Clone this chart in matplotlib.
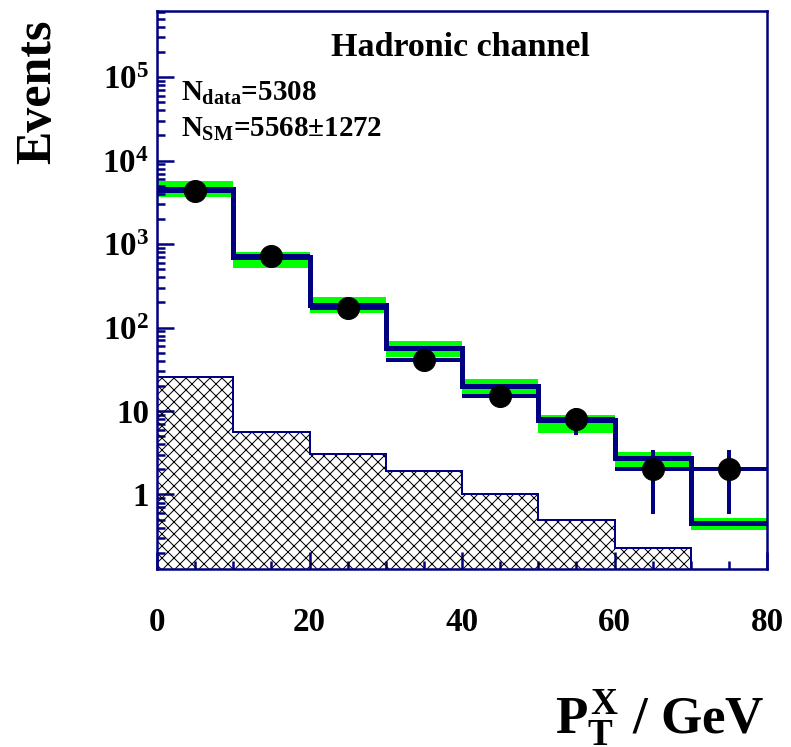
import numpy as np
import matplotlib
matplotlib.use('Agg')
import matplotlib.pyplot as plt
from matplotlib.ticker import FixedLocator, FixedFormatter

plt.rcParams['font.family'] = ['Liberation Serif', 'DejaVu Serif']
plt.rcParams['font.weight'] = 'bold'
plt.rcParams['mathtext.fontset'] = 'custom'
plt.rcParams['mathtext.rm'] = 'Liberation Serif:bold'
plt.rcParams['mathtext.it'] = 'Liberation Serif:bold'
plt.rcParams['mathtext.bf'] = 'Liberation Serif:bold'
plt.rcParams['hatch.linewidth'] = 1.0

# Bins in P_T^X (GeV)
bordes = np.array([0, 10, 20, 30, 40, 50, 60, 70, 80])
centros = 0.5 * (bordes[:-1] + bordes[1:])

# Datos observados
datos = np.array([4360, 710, 170, 41, 15, 8, 2, 2])
# Prediccion SM total
sm = np.array([4596, 698, 186, 57, 20, 7.8, 2.7, 0.45])
# Banda de incertidumbre SM (bajo / alto)
sm_bajo = np.array([3655, 516, 149, 44.4, 15.6, 5.5, 2.13, 0.376])
sm_alto = np.array([5680, 802, 232, 68.9, 24.2, 9.0, 3.23, 0.523])
# Fondo (histograma rayado)
fondo = np.array([25.5, 5.6, 3.05, 1.91, 1.0, 0.495, 0.229, 0.0])

azul = '#000080'
verde = '#00ff00'

fig = plt.figure(figsize=(791 / 72, 747 / 72), dpi=72)
ax = fig.add_axes([157 / 791, 1 - 569 / 747, 610 / 791, 558 / 747])
ax.set_yscale('log')
ymin, ymax = 0.128, 6.2e5

# banda verde
for i in range(len(sm)):
    ax.fill_between([bordes[i], bordes[i + 1]], sm_bajo[i], sm_alto[i],
                    color=verde, linewidth=0, zorder=1)

# fondo rayado
fondo_plot = np.where(fondo > 0, fondo, 1e-3)
ax.stairs(fondo_plot, bordes, baseline=1e-3, fill=False, hatch='xx',
          edgecolor='black', linewidth=0, zorder=2)
ax.stairs(fondo_plot, bordes, baseline=1e-3, color=azul, linewidth=2, zorder=3)

# SM total
ax.stairs(sm, bordes, baseline=None, color=azul, linewidth=5, zorder=4)

# datos
ax.errorbar(centros, datos, xerr=5, yerr=np.sqrt(datos), fmt='o',
            color='black', ecolor=azul, elinewidth=4, markersize=22,
            capsize=0, zorder=5)

ax.set_xlim(0, 80)
ax.set_ylim(ymin, ymax)

for lado in ['left', 'bottom', 'right', 'top']:
    ax.spines[lado].set_color(azul)
    ax.spines[lado].set_linewidth(2.5)

ax.xaxis.set_major_locator(FixedLocator([0, 20, 40, 60, 80]))
ax.xaxis.set_minor_locator(FixedLocator(np.arange(0, 81, 5)))
mayores = [1, 10, 1e2, 1e3, 1e4, 1e5]
ax.yaxis.set_major_locator(FixedLocator(mayores))
ax.yaxis.set_major_formatter(FixedFormatter(['1', '10', r'$10^{2}$', r'$10^{3}$',
                                             r'$10^{4}$', r'$10^{5}$']))
menores = [m * 10.0 ** e for e in range(-1, 6) for m in range(2, 10)]
ax.yaxis.set_minor_locator(FixedLocator(menores))
ax.yaxis.set_minor_formatter(FixedFormatter([''] * len(menores)))

ax.tick_params(which='both', direction='in', color=azul, width=2.5,
               top=False, right=False, labelsize=33)
ax.tick_params(which='major', length=17)
ax.tick_params(which='minor', length=8)
ax.tick_params(axis='x', pad=38)
ax.tick_params(axis='y', pad=8)
for t in ax.get_xticklabels() + ax.get_yticklabels():
    t.set_fontweight('bold')

fig.text(38 / 791, 1 - 92 / 747, 'Events', rotation=90, fontsize=50,
         fontweight='bold', ha='center', va='center')
fig.text(765 / 791, 1 - 718 / 747, r'$P_{T}^{X}$ / GeV', fontsize=53,
         fontweight='bold', ha='right', va='center')

ax.text(460 / 791, 1 - 47 / 747, 'Hadronic channel', transform=fig.transFigure,
        fontsize=34, fontweight='bold', ha='center', va='center')
ax.text(181 / 791, 1 - 101 / 747, r'$N_{data}$=5308', transform=fig.transFigure,
        fontsize=29, fontweight='bold', ha='left', va='baseline')
ax.text(181 / 791, 1 - 137 / 747, r'$N_{SM}$=5568±1272', transform=fig.transFigure,
        fontsize=29, fontweight='bold', ha='left', va='baseline')

plt.savefig('out.png', dpi=72)
